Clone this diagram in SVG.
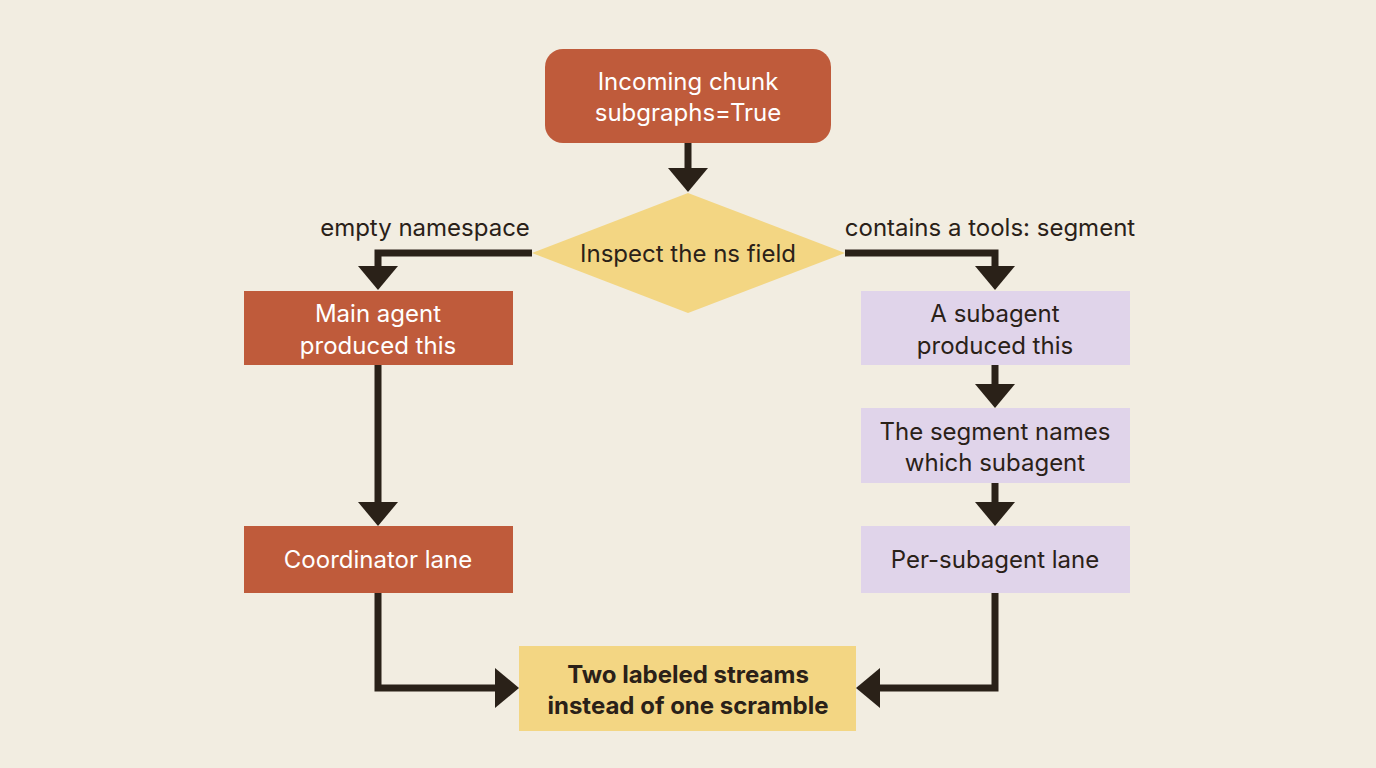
<svg xmlns="http://www.w3.org/2000/svg" width="1376" height="768" viewBox="0 0 1376 768">
<style>
.t{font-family:"Inter","Liberation Sans",sans-serif;font-size:24px;text-anchor:middle}
.w{fill:#fff}.d{fill:#2a2118}.b{font-weight:bold}
.ln{fill:none;stroke:#2a2118;stroke-width:7}
.ah{fill:#2a2118}
.o{fill:#bf5b3b}.p{fill:#e0d4ea}.y{fill:#f3d683}
</style>
<rect width="1376" height="768" fill="#f2ede1"/>
<g id="connectors">
<path class="ln" d="M688 143V170"/><polygon class="ah" points="668,168 708,168 688,192"/>
<path class="ln" d="M532 253H378V270"/><polygon class="ah" points="358,266 398,266 378,290"/>
<path class="ln" d="M845 253H995V270"/><polygon class="ah" points="975,266 1015,266 995,290"/>
<path class="ln" d="M378 365V505"/><polygon class="ah" points="358,502 398,502 378,526"/>
<path class="ln" d="M995 365V388"/><polygon class="ah" points="975,384 1015,384 995,408"/>
<path class="ln" d="M995 483V506"/><polygon class="ah" points="975,502 1015,502 995,526"/>
<path class="ln" d="M378 593V688H498"/><polygon class="ah" points="495,668 495,708 519,688"/>
<path class="ln" d="M995 593V688H877"/><polygon class="ah" points="880,668 880,708 856,688"/>
<text class="t d" x="425" y="236">empty namespace</text>
<text class="t d" x="990" y="236">contains a tools: segment</text>
</g>
<g id="n1"><rect class="o" x="545" y="49" width="286" height="94" rx="18"/>
<text class="t w" x="688" y="90">Incoming chunk</text><text class="t w" x="688" y="121">subgraphs=True</text></g>
<g id="n2"><polygon class="y" points="688,193 845,253 688,313 532,253"/>
<text class="t d" x="688" y="262">Inspect the ns field</text></g>
<g id="n3"><rect class="o" x="244" y="291" width="269" height="74"/>
<text class="t w" x="378" y="322">Main agent</text><text class="t w" x="378" y="354">produced this</text></g>
<g id="n4"><rect class="p" x="861" y="291" width="269" height="74"/>
<text class="t d" x="995" y="322">A subagent</text><text class="t d" x="995" y="354">produced this</text></g>
<g id="n5"><rect class="p" x="861" y="408" width="269" height="75"/>
<text class="t d" x="995" y="440">The segment names</text><text class="t d" x="995" y="471">which subagent</text></g>
<g id="n6"><rect class="o" x="244" y="526" width="269" height="67"/>
<text class="t w" x="378" y="568">Coordinator lane</text></g>
<g id="n7"><rect class="p" x="861" y="526" width="269" height="67"/>
<text class="t d" x="995" y="568">Per-subagent lane</text></g>
<g id="n8"><rect class="y" x="519" y="646" width="337" height="85"/>
<text class="t d b" x="688" y="683">Two labeled streams</text><text class="t d b" x="688" y="714">instead of one scramble</text></g>
</svg>
